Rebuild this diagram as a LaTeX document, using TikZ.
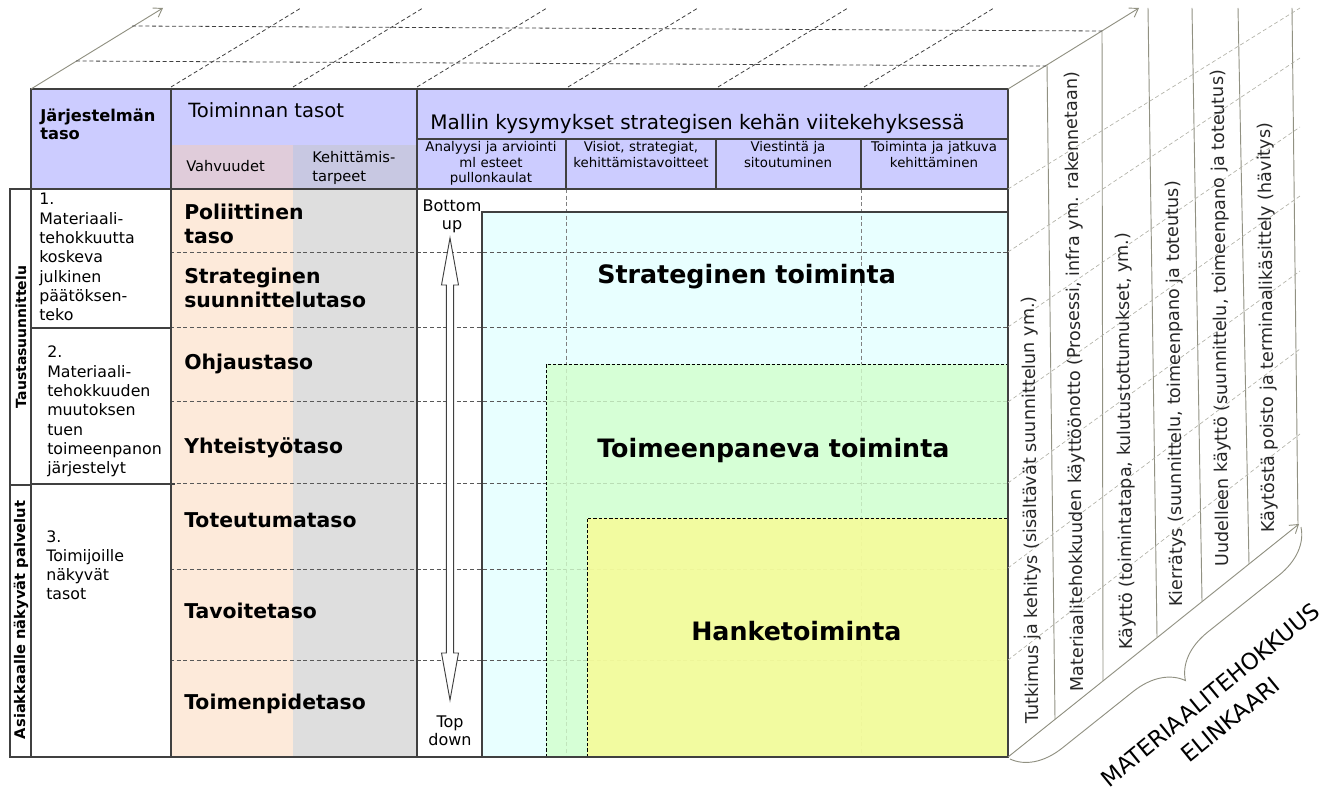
\documentclass[tikz,border=0pt]{standalone}
\usepackage{fontspec}
\setmainfont{DejaVu Sans}
\usetikzlibrary{arrows.meta,decorations.pathreplacing}
\tikzset{>=stealth}

\definecolor{hdr}{RGB}{204,204,255}
\definecolor{hdrvahv}{RGB}{224,204,218}
\definecolor{hdrkeht}{RGB}{200,200,226}
\definecolor{vahv}{RGB}{253,234,218}
\definecolor{keht}{RGB}{222,222,222}
\definecolor{strat}{RGB}{232,255,255}
\definecolor{toimp}{RGB}{210,255,204}
\definecolor{hanke}{RGB}{250,251,147}
\definecolor{frame}{RGB}{64,64,64}
\definecolor{edge}{RGB}{145,145,130}

\newcommand{\fsz}[2]{\fontsize{#1}{#2}\selectfont}

\begin{document}
\begin{tikzpicture}[x=0.75pt,y=-0.75pt,
  tbl/.style={frame,line width=1pt},
  rowline/.style={gray!70!black,line width=0.7pt,dash pattern=on 3pt off 2pt},
  box/.style={black,line width=0.7pt,dash pattern=on 2.5pt off 1.5pt},
  face/.style={edge,line width=0.7pt},
  faceline/.style={black!75,line width=0.6pt,dash pattern=on 3pt off 2pt},
  sideline/.style={edge!70,line width=0.5pt,dash pattern=on 3pt off 2pt},
  txt/.style={anchor=base west,inner sep=0,align=left},
  sub/.style={anchor=base,inner sep=0,align=center,text width=110pt,font=\fsz{10}{11.5}},
  c1/.style={txt,text width=100pt,font=\fsz{11.85}{14.45}},
  lvl/.style={txt,text width=170pt,font=\fsz{15.3}{18}\bfseries},
  big/.style={txt,font=\fsz{19}{22}\bfseries},
  side/.style={rotate=90,inner sep=0,font=\fsz{10.5}{12}\bfseries},
  bt/.style={anchor=base,inner sep=0,align=center,text width=50pt,font=\fsz{12}{13.5}},
  life/.style={rotate=90.6,anchor=west,inner sep=0,font=\fsz{13.2}{15},text=black!85}]

\useasboundingbox (0,0) rectangle (1324,791);

% fills
\fill[hdr] (31,89) rectangle (1008,189);
\fill[hdrvahv] (171,145) rectangle (293,189);
\fill[hdrkeht] (293,145) rectangle (417,189);
\fill[vahv] (171,189) rectangle (293,757);
\fill[keht] (293,189) rectangle (417,757);
\fill[strat] (482,212) rectangle (1008,757);

% rows and columns
\foreach \y in {252,327,401,483,569,660}
  \draw[rowline] (170,\y) -- (1008,\y);
\foreach \x in {566,861}
  \draw[rowline,gray] (\x,189) -- (\x,757);

\fill[toimp,opacity=.8] (546,364) rectangle (1008,757);
\draw[box] (546,757) -- (546,364) -- (1008,364);
\fill[hanke,opacity=.8] (587,518) rectangle (1008,757);
\draw[box] (587,757) -- (587,518) -- (1008,518);
\draw[tbl] (482,757) -- (482,212) -- (1008,212);

% table
\draw[tbl] (31,89) rectangle (1008,757);
\draw[tbl] (10,189) rectangle (31,757);
\draw[tbl] (10,485) -- (31,485);
\draw[tbl] (31,189) -- (1008,189);
\draw[tbl] (171,89) -- (171,757);
\draw[tbl] (417,89) -- (417,757);
\draw[tbl] (417,139) -- (1008,139);
\foreach \x in {566,716,861}
  \draw[tbl] (\x,139) -- (\x,189);
\draw[tbl] (31,328) -- (171,328);
\draw[tbl] (31,484) -- (175,484);

\draw[frame,line width=0.7pt,fill=white] (450,238) -- (458.5,285) -- (453.7,285) -- (453.7,653) -- (458.5,653) -- (450,700) -- (441.5,653) -- (446.3,653) -- (446.3,285) -- (441.5,285) -- cycle;

% top face
\draw[face,-{Straight Barb[length=6pt,width=8pt]}] (31,89) -- (163,8);
\draw[face,-{Straight Barb[length=6pt,width=8pt]}] (1008,89) -- (1139,8);
\foreach \x in {171,293,417,568,718,864}
  \draw[faceline] (\x,87) -- (\x+130,8);
\draw[faceline] (132,26) -- (1102,31);
\draw[faceline] (76,61) -- (1046,66);

% right face
\draw[face,-{Straight Barb[length=6pt,width=8pt]}] (1008,757) -- (1299,524);
\draw[face] (1047,65) -- (1055,719);
\draw[face] (1102,31) -- (1103,681);
\draw[face] (1148,8) -- (1157,637);
\draw[face] (1192,8) -- (1202,601);
\draw[face] (1238,8) -- (1249,564);
\draw[face] (1292,8) -- (1298,525);
\foreach \y/\e in {189/8,252/58,327/127,402/196,483/271,568/349,660/434}
  \draw[sideline] (1008,\y) -- (1300,\e);
\draw[face,decorate,decoration={brace,mirror,amplitude=36pt}] (1010,759) -- (1301,527);

% header
\node[txt,text width=110pt,font=\fsz{12.2}{12.9}\bfseries] (sys) at (40,122) {Järjestelmän\\taso};
\node[txt,font=\fsz{14.7}{17}] (levels) at (188,118) {Toiminnan tasot};
\node[txt,font=\fsz{11}{13}] (strength) at (186,172) {Vahvuudet};
\node[txt,text width=80pt,font=\fsz{11}{14.25}] (needs) at (312,163) {Kehittämis-\\tarpeet};
\node[txt,font=\fsz{15}{17}] (quest) at (430,130) {Mallin kysymykset strategisen kehän viitekehyksessä};
\node[sub] (q1) at (491,152) {Analyysi ja arviointi\\ml esteet\\pullonkaulat};
\node[sub] (q2) at (641,152) {Visiot, strategiat,\\kehittämistavoitteet};
\node[sub] (q3) at (788,152) {Viestintä ja\\sitoutuminen};
\node[sub] (q4) at (934,152) {Toiminta ja jatkuva\\kehittäminen};

% system levels
\node[side] (bg) at (21,337) {Taustasuunnittelu};
\node[side,font=\fsz{11}{12}\bfseries] (cust) at (21,620) {Asiakkaalle näkyvät palvelut};
\node[c1] (sys1) at (39,205) {1.\\Materiaali-\\tehokkuutta\\koskeva\\julkinen\\päätöksen-\\teko};
\node[c1] (sys2) at (47,358) {2.\\Materiaali-\\tehokkuuden\\muutoksen\\tuen\\toimeenpanon\\järjestelyt};
\node[c1] (sys3) at (46,542) {3.\\Toimijoille\\näkyvät\\tasot};

\node[lvl] (pol) at (184,220) {Poliittinen\\taso};
\node[lvl] (str) at (184,284) {Strateginen\\suunnittelutaso};
\node[lvl] (ohj) at (184,370) {Ohjaustaso};
\node[lvl] (yht) at (184,453) {Yhteistyötaso};
\node[lvl] (tot) at (184,527) {Toteutumataso};
\node[lvl] (tav) at (184,618) {Tavoitetaso};
\node[lvl] (tmp) at (184,709) {Toimenpidetaso};

\node[bt] (bu) at (452,212) {Bottom\\up};
\node[bt] (td) at (450,727) {Top\\down};

\node[big] (stratact) at (597,284) {Strateginen toiminta};
\node[big] (implact) at (597,457) {Toimeenpaneva toiminta};
\node[big] (projact) at (691,640) {Hanketoiminta};

% life cycle
\node[life] (lc1) at (1034,724) {Tutkimus ja kehitys (sisältävät suunnittelun ym.)};
\node[life] (lc2) at (1079,692) {Materiaalitehokkuuden käyttöönotto (Prosessi, infra ym. rakennetaan)};
\node[life] (lc3) at (1128,650) {Käyttö (toimintatapa, kulutustottumukset, ym.)};
\node[life] (lc4) at (1178,607) {Kierrätys (suunnittelu, toimeenpano ja toteutus)};
\node[life] (lc5) at (1224,567) {Uudelleen käyttö (suunnittelu, toimeenpano ja toteutus)};
\node[life] (lc6) at (1270,533) {Käytöstä poisto ja terminaalikäsittely (hävitys)};
\node[rotate=39.4,align=center,inner sep=0,font=\fsz{17}{24}] (elink) at (1220,707) {MATERIAALITEHOKKUUS\\ELINKAARI};

\end{tikzpicture}
\end{document}
